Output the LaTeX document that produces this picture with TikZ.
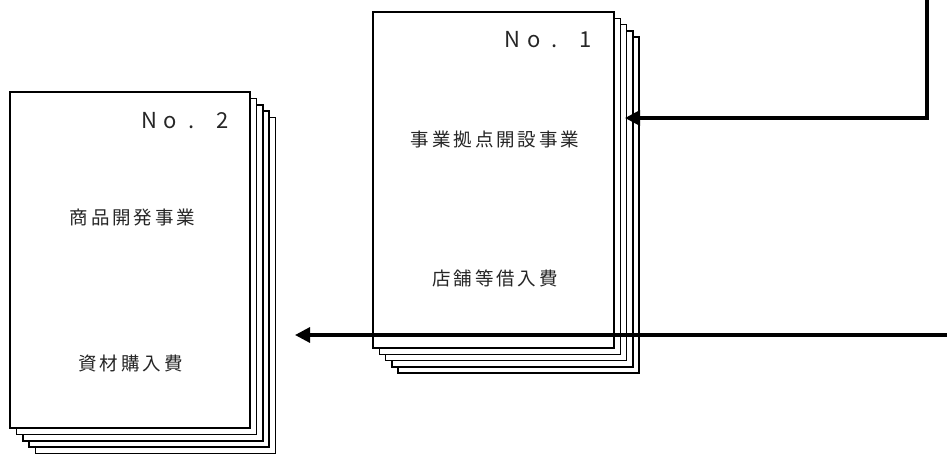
\documentclass[tikz,border=0pt]{standalone}
\usepackage{fontspec}
\usetikzlibrary{arrows.meta}
\newfontfamily\jpls[LetterSpace=16]{Noto Sans CJK JP}
\newfontfamily\jpn{Noto Sans CJK JP}
\tikzset{
  sheet/.style={draw=black, fill=white, line width=1.5pt, inner sep=0pt, outer sep=0pt, anchor=north west},
  label/.style={inner sep=0pt, text=black!85, font=\jpls\fontsize{18.5pt}{20pt}\selectfont},
  nolabel/.style={inner sep=0pt, anchor=west, text=black!85, font=\jpn\fontsize{22pt}{24pt}\selectfont},
  conn/.style={draw=black, line width=3.2pt, -{Triangle[length=15pt,width=15pt]}},
}
\newcommand{\nolab}[1]{\makebox[21pt]{N}\makebox[21pt]{o}\makebox[21pt]{.}\hspace{10pt}\makebox[21pt]{#1}}
\begin{document}
\begin{tikzpicture}[x=1pt,y=-1pt]
\useasboundingbox (0,0) rectangle (947,453);
% stack No.1 (back to front)
\foreach \k in {4,3,2,1} {
  \node[sheet, minimum width=241pt, minimum height=336pt] (sa\k) at ({373+6.3*\k},{12+6.3*\k}) {};
}
\node[sheet, minimum width=241pt, minimum height=336pt] (sa0) at (373,12) {};
% stack No.2 (back to front)
\foreach \k in {4,3,2,1} {
  \node[sheet, minimum width=240pt, minimum height=336pt] (sb\k) at ({10+6.4*\k},{92+6.4*\k}) {};
}
\node[sheet, minimum width=240pt, minimum height=336pt] (sb0) at (10,92) {};
% texts
\node[nolabel] (no1) at (502,40) {\nolab{1}};
\node[label] (t1a) at (495,139) {事業拠点開設事業};
\node[label] (t1b) at (495,278) {店舗等借入費};
\node[nolabel] (no2) at (138.5,121) {\nolab{2}};
\node[label] (t2a) at (132.5,218) {商品開発事業};
\node[label] (t2b) at (130.5,363) {資材購入費};
% connectors
\coordinate (a1s) at (927,-2);
\coordinate (a1t) at (625,118);
\draw[conn] (a1s) |- (a1t);
\coordinate (a2s) at (949,335);
\coordinate (a2t) at (295,335);
\draw[conn] (a2s) -- (a2t);
\end{tikzpicture}
\end{document}
